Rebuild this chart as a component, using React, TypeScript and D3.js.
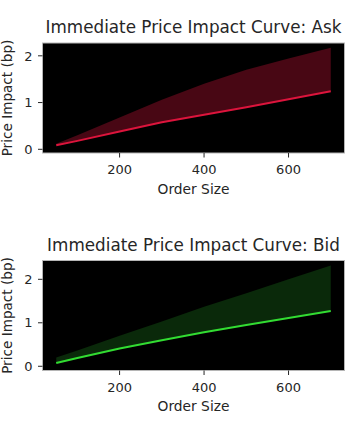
import React from "react";
import * as d3 from "d3";

const orderSizes = [50, 100, 200, 300, 400, 500, 600, 700];
const askMean = [0.085, 0.18, 0.38, 0.58, 0.74, 0.9, 1.07, 1.24];
const askUpper = [0.12, 0.3, 0.68, 1.06, 1.4, 1.7, 1.94, 2.17];
const bidMean = [0.075, 0.19, 0.41, 0.6, 0.78, 0.95, 1.11, 1.27];
const bidUpper = [0.2, 0.36, 0.7, 1.03, 1.37, 1.68, 2.0, 2.32];
const xTicks = [200, 400, 600];
const yTicks = [0, 1, 2];

const FONT = "DejaVu Sans, sans-serif";
const TXT = "#262626";

type PanelProps = {
  top: number;
  title: string;
  mean: number[];
  upper: number[];
  lineColor: string;
  fillColor: string;
  fillOpacity: number;
};

function Panel({ top, title, mean, upper, lineColor, fillColor, fillOpacity }: PanelProps) {
  const left = 42.5;
  const right = 344.5;
  const height = 110;
  const x = d3.scaleLinear().domain([17.5, 732.5]).range([left, right]);
  const allY = [...mean, ...upper];
  const ymin = d3.min(allY)!;
  const ymax = d3.max(allY)!;
  const pad = (ymax - ymin) * 0.05;
  const y = d3.scaleLinear().domain([ymin - pad - 0.06, ymax + pad]).range([top + height, top]);
  const pts = orderSizes.map((s, i) => ({ s, m: mean[i], u: upper[i] }));
  const area = d3
    .area<{ s: number; m: number; u: number }>()
    .x((d) => x(d.s))
    .y0((d) => y(d.m))
    .y1((d) => y(d.u));
  const line = d3
    .line<{ s: number; m: number; u: number }>()
    .x((d) => x(d.s))
    .y((d) => y(d.m));
  const cx = (left + right) / 2;
  return (
    <g fontFamily={FONT}>
      <text x={cx} y={top - 10} textAnchor="middle" fontSize={16.8} fill={TXT}>
        {title}
      </text>
      <rect x={left} y={top} width={right - left} height={height} fill="#000" />
      <path d={area(pts)!} fill={fillColor} fillOpacity={fillOpacity} />
      <path d={line(pts)!} fill="none" stroke={lineColor} strokeWidth={2} />
      <rect x={left} y={top} width={right - left} height={height} fill="none" stroke="#b5b5b5" strokeWidth={1} />
      {xTicks.map((t) => (
        <g key={t}>
          <line x1={x(t)} x2={x(t)} y1={top + height} y2={top + height + 4.5} stroke={TXT} strokeWidth={1} />
          <text x={x(t)} y={top + height + 21} textAnchor="middle" fontSize={13} fill={TXT}>
            {t}
          </text>
        </g>
      ))}
      {yTicks.map((t) => (
        <g key={t}>
          <line x1={left - 4.5} x2={left} y1={y(t)} y2={y(t)} stroke={TXT} strokeWidth={1} />
          <text x={left - 10} y={y(t) + 4.7} textAnchor="end" fontSize={13} fill={TXT}>
            {t}
          </text>
        </g>
      ))}
      <text x={cx} y={top + height + 40.5} textAnchor="middle" fontSize={13.8} fill={TXT}>
        Order Size
      </text>
      <text
        transform={`translate(12,${top + height / 2}) rotate(-90)`}
        textAnchor="middle"
        fontSize={13.6}
        fill={TXT}
      >
        Price Impact (bp)
      </text>
    </g>
  );
}

export default function App() {
  return (
    <svg width={356} height={424} style={{ position: "absolute", left: 0, top: 0, background: "#fff" }}>
      <Panel
        top={43}
        title="Immediate Price Impact Curve: Ask"
        mean={askMean}
        upper={askUpper}
        lineColor="#dc143c"
        fillColor="#dc143c"
        fillOpacity={0.33}
      />
      <Panel
        top={260.5}
        title="Immediate Price Impact Curve: Bid"
        mean={bidMean}
        upper={bidUpper}
        lineColor="#32dc32"
        fillColor="#32cd32"
        fillOpacity={0.2}
      />
    </svg>
  );
}
